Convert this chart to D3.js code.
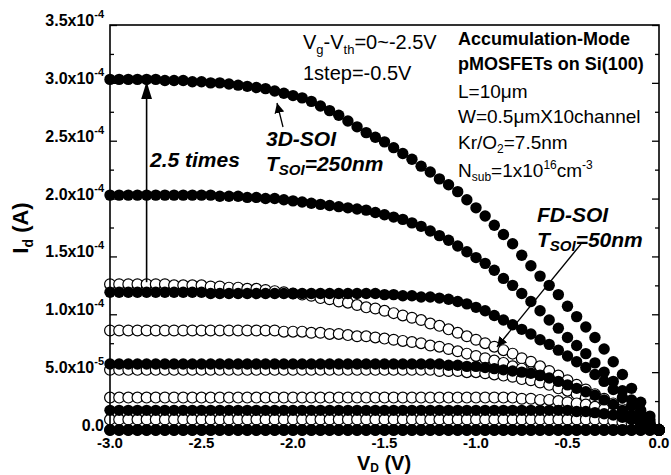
<!DOCTYPE html>
<html>
<head>
<meta charset="utf-8">
<script src="https://cdn.jsdelivr.net/npm/d3@7/dist/d3.min.js"></script>
<style>
  body { margin: 0; background: #fff; }
  text { font-family: Arial, "Liberation Sans", sans-serif; fill: #000; }
</style>
</head>
<body>
<svg id="chart" width="671" height="475"></svg>
<script>
// drain voltage (V)
var vd = [-3.00,-2.95,-2.90,-2.85,-2.80,-2.75,-2.70,-2.65,-2.60,-2.55,
  -2.50,-2.45,-2.40,-2.35,-2.30,-2.25,-2.20,-2.15,-2.10,-2.05,
  -2.00,-1.95,-1.90,-1.85,-1.80,-1.75,-1.70,-1.65,-1.60,-1.55,
  -1.50,-1.45,-1.40,-1.35,-1.30,-1.25,-1.20,-1.15,-1.10,-1.05,
  -1.00,-0.95,-0.90,-0.85,-0.80,-0.75,-0.70,-0.65,-0.60,-0.55,
  -0.50,-0.45,-0.40,-0.35,-0.30,-0.25,-0.20,-0.15,-0.10,-0.05,
  0.00];

// drain current, in units of 1e-4 A
// 3D-SOI (Tsoi=250nm), Vg-Vth = -2.5 ... 0
var soi3d_m25 = [3.03,3.03,3.03,3.03,3.03,3.03,3.02,3.02,3.02,3.01,
  3.01,3.00,3.00,2.99,2.98,2.97,2.96,2.95,2.93,2.91,
  2.89,2.87,2.84,2.80,2.76,2.72,2.67,2.62,2.57,2.53,
  2.49,2.44,2.39,2.34,2.28,2.23,2.17,2.12,2.06,1.99,
  1.92,1.85,1.77,1.69,1.61,1.51,1.42,1.33,1.25,1.17,
  1.07,0.98,0.89,0.80,0.70,0.59,0.48,0.36,0.24,0.12,
  0.00];
var soi3d_m20 = [2.03,2.03,2.03,2.03,2.03,2.03,2.03,2.03,2.03,2.03,
  2.03,2.03,2.02,2.02,2.02,2.01,2.01,2.00,2.00,1.99,
  1.98,1.97,1.96,1.95,1.94,1.93,1.92,1.91,1.90,1.88,
  1.86,1.84,1.82,1.79,1.76,1.72,1.68,1.64,1.59,1.54,
  1.49,1.44,1.38,1.31,1.25,1.18,1.11,1.03,0.95,0.88,
  0.80,0.73,0.66,0.58,0.50,0.42,0.34,0.26,0.17,0.09,
  0.00];
var soi3d_m15 = [1.19,1.19,1.19,1.19,1.19,1.19,1.19,1.19,1.19,1.19,
  1.19,1.18,1.18,1.18,1.18,1.18,1.18,1.18,1.18,1.18,
  1.18,1.18,1.18,1.18,1.18,1.18,1.18,1.18,1.18,1.18,
  1.17,1.17,1.16,1.16,1.15,1.15,1.14,1.13,1.11,1.09,
  1.06,1.03,0.99,0.95,0.91,0.87,0.83,0.78,0.74,0.69,
  0.64,0.59,0.54,0.48,0.42,0.35,0.28,0.21,0.14,0.07,
  0.00];
var soi3d_m10 = [0.57,0.57,0.57,0.57,0.57,0.57,0.57,0.57,0.57,0.57,
  0.57,0.57,0.57,0.57,0.57,0.57,0.57,0.57,0.57,0.57,
  0.57,0.57,0.57,0.57,0.57,0.57,0.57,0.57,0.57,0.57,
  0.57,0.57,0.57,0.57,0.57,0.57,0.57,0.56,0.56,0.55,
  0.55,0.54,0.53,0.52,0.51,0.50,0.49,0.47,0.45,0.42,
  0.39,0.36,0.33,0.30,0.26,0.22,0.17,0.13,0.09,0.04,
  0.00];
var soi3d_m05 = [0.17,0.17,0.17,0.17,0.17,0.17,0.17,0.17,0.17,0.17,
  0.17,0.17,0.17,0.17,0.17,0.17,0.17,0.17,0.17,0.17,
  0.17,0.17,0.17,0.17,0.17,0.17,0.17,0.17,0.17,0.17,
  0.17,0.17,0.17,0.17,0.17,0.17,0.17,0.17,0.17,0.17,
  0.17,0.17,0.17,0.17,0.17,0.17,0.17,0.17,0.17,0.17,
  0.17,0.16,0.16,0.15,0.14,0.13,0.11,0.09,0.06,0.03,
  0.00];
var soi3d_0 = [0,0,0,0,0,0,0,0,0,0, 0,0,0,0,0,0,0,0,0,0,
  0,0,0,0,0,0,0,0,0,0, 0,0,0,0,0,0,0,0,0,0,
  0,0,0,0,0,0,0,0,0,0, 0,0,0,0,0,0,0,0,0,0, 0];

// FD-SOI (Tsoi=50nm), Vg-Vth = -2.5 ... 0
var fd_m25 = [1.26,1.26,1.26,1.26,1.26,1.26,1.26,1.25,1.25,1.25,
  1.25,1.24,1.24,1.23,1.23,1.22,1.22,1.21,1.20,1.19,
  1.18,1.17,1.16,1.14,1.13,1.11,1.10,1.08,1.06,1.05,
  1.03,1.01,0.99,0.97,0.95,0.92,0.90,0.87,0.84,0.81,
  0.78,0.75,0.72,0.69,0.66,0.62,0.59,0.55,0.51,0.47,
  0.43,0.39,0.35,0.31,0.27,0.23,0.18,0.14,0.09,0.05,
  0.00];
var fd_m20 = [0.86,0.86,0.86,0.86,0.86,0.86,0.86,0.86,0.86,0.86,
  0.86,0.86,0.86,0.86,0.86,0.86,0.86,0.86,0.86,0.85,
  0.85,0.85,0.84,0.84,0.83,0.83,0.82,0.81,0.81,0.80,
  0.79,0.78,0.77,0.76,0.75,0.73,0.72,0.70,0.68,0.66,
  0.64,0.62,0.60,0.58,0.55,0.53,0.50,0.47,0.44,0.41,
  0.38,0.34,0.31,0.27,0.24,0.20,0.16,0.12,0.08,0.04,
  0.00];
var fd_m15 = [0.52,0.52,0.52,0.52,0.52,0.52,0.52,0.52,0.52,0.52,
  0.52,0.52,0.52,0.52,0.52,0.52,0.52,0.52,0.52,0.52,
  0.52,0.52,0.52,0.52,0.52,0.52,0.52,0.52,0.52,0.52,
  0.52,0.52,0.52,0.52,0.52,0.52,0.51,0.51,0.51,0.50,
  0.50,0.49,0.48,0.47,0.46,0.44,0.43,0.41,0.39,0.36,
  0.34,0.31,0.28,0.25,0.22,0.18,0.15,0.11,0.07,0.04,
  0.00];
var fd_m10 = [0.28,0.28,0.28,0.28,0.28,0.28,0.28,0.28,0.28,0.28,
  0.28,0.28,0.28,0.28,0.28,0.28,0.28,0.28,0.28,0.28,
  0.28,0.28,0.28,0.28,0.28,0.28,0.28,0.28,0.28,0.28,
  0.28,0.28,0.28,0.28,0.28,0.28,0.28,0.28,0.28,0.28,
  0.28,0.28,0.28,0.28,0.28,0.27,0.27,0.26,0.26,0.25,
  0.24,0.23,0.22,0.20,0.18,0.16,0.13,0.10,0.07,0.03,
  0.00];
var fd_m05 = [0.09,0.09,0.09,0.09,0.09,0.09,0.09,0.09,0.09,0.09,
  0.09,0.09,0.09,0.09,0.09,0.09,0.09,0.09,0.09,0.09,
  0.09,0.09,0.09,0.09,0.09,0.09,0.09,0.09,0.09,0.09,
  0.09,0.09,0.09,0.09,0.09,0.09,0.09,0.09,0.09,0.09,
  0.09,0.09,0.09,0.09,0.09,0.09,0.09,0.09,0.09,0.09,
  0.09,0.09,0.09,0.09,0.09,0.08,0.07,0.06,0.04,0.02,
  0.00];
var fd_0 = [0,0,0,0,0,0,0,0,0,0, 0,0,0,0,0,0,0,0,0,0,
  0,0,0,0,0,0,0,0,0,0, 0,0,0,0,0,0,0,0,0,0,
  0,0,0,0,0,0,0,0,0,0, 0,0,0,0,0,0,0,0,0,0, 0];

var xTicks = [-3.0, -2.5, -2.0, -1.5, -1.0, -0.5, 0.0];
var xTickLabels = ["-3.0", "-2.5", "-2.0", "-1.5", "-1.0", "-0.5", "0.0"];
var yTicks = [0, 0.5, 1.0, 1.5, 2.0, 2.5, 3.0, 3.5];
var yTickMant = ["0.0", "5.0x10", "1.0x10", "1.5x10", "2.0x10", "2.5x10", "3.0x10", "3.5x10"];
var yTickExp = ["", "-5", "-4", "-4", "-4", "-4", "-4", "-4"];

var svg = d3.select("#chart");
// plot frame (note: "top" is reserved on window, so use other names)
var pL = 110, pR = 659, pT = 25, pB = 430;

var x = d3.scaleLinear().domain([-3, 0]).range([pL, pR]);
var y = d3.scaleLinear().domain([0, 3.5]).range([pB, pT]);

// ticks (inward), major + minor, left/right/bottom
var minorX = d3.range(-2.75, 0, 0.5);
var minorY = d3.range(0.25, 3.5, 0.5);

function ticks(axis, vals, size, tr) {
  var g = svg.append("g").attr("transform", tr)
    .call(axis.tickValues(vals).tickSize(size).tickFormat(""));
  g.select(".domain").remove();
  g.selectAll("line").attr("stroke", "#000").attr("stroke-width", 1.3);
}
ticks(d3.axisBottom(x), xTicks, -7, "translate(0," + pB + ")");
ticks(d3.axisBottom(x), minorX, -4, "translate(0," + pB + ")");
ticks(d3.axisLeft(y), yTicks, -7, "translate(" + pL + ",0)");
ticks(d3.axisLeft(y), minorY, -4, "translate(" + pL + ",0)");
ticks(d3.axisRight(y), yTicks, -7, "translate(" + pR + ",0)");
ticks(d3.axisRight(y), minorY, -4, "translate(" + pR + ",0)");

// data markers: open FD-SOI first, filled 3D-SOI on top
var openSeries = [fd_m25, fd_m20, fd_m15, fd_m10, fd_m05, fd_0];
var filledSeries = [soi3d_m25, soi3d_m20, soi3d_m15, soi3d_m10, soi3d_m05, soi3d_0];

openSeries.forEach(function(s) {
  svg.append("g").selectAll("circle").data(s).enter().append("circle")
    .attr("cx", function(d, i) { return x(vd[i]); })
    .attr("cy", function(d) { return y(d); })
    .attr("r", 5.4)
    .attr("fill", "#fff")
    .attr("stroke", "#000")
    .attr("stroke-width", 1.2);
});
filledSeries.forEach(function(s) {
  svg.append("g").selectAll("circle").data(s).enter().append("circle")
    .attr("cx", function(d, i) { return x(vd[i]); })
    .attr("cy", function(d) { return y(d); })
    .attr("r", 5.7)
    .attr("fill", "#000");
});

// frame
svg.append("rect")
  .attr("x", pL).attr("y", pT)
  .attr("width", pR - pL).attr("height", pB - pT)
  .attr("fill", "none").attr("stroke", "#000").attr("stroke-width", 1.6);

// tick labels
svg.append("g").selectAll("text").data(xTicks).enter().append("text")
  .attr("x", function(d) { return x(d); })
  .attr("y", 448)
  .attr("text-anchor", "middle")
  .attr("font-size", 15).attr("font-weight", "bold")
  .text(function(d, i) { return xTickLabels[i]; });

var yl = svg.append("g").selectAll("text").data(yTicks).enter().append("text")
  .attr("x", 104)
  .attr("y", function(d) { return y(d) + 1; })
  .attr("text-anchor", "end")
  .attr("font-size", 16).attr("font-weight", "bold");
yl.append("tspan").text(function(d, i) { return yTickMant[i]; });
yl.append("tspan").attr("dy", -8).attr("font-size", 11)
  .text(function(d, i) { return yTickExp[i]; });

// axis titles
var xt = svg.append("text").attr("x", 384).attr("y", 469.5)
  .attr("text-anchor", "middle").attr("font-size", 20).attr("font-weight", "bold");
xt.append("tspan").text("V");
xt.append("tspan").attr("font-size", 12).attr("dy", 2.5).text("D");
xt.append("tspan").attr("dy", -2.5).text(" (V)");

var ytl = svg.append("text").attr("transform", "translate(28,228) rotate(-90)")
  .attr("text-anchor", "middle").attr("font-size", 22).attr("font-weight", "bold");
ytl.append("tspan").text("I");
ytl.append("tspan").attr("font-size", 14).attr("dy", 5).text("d");
ytl.append("tspan").attr("dy", -5).text(" (A)");

// arrows
var defs = svg.append("defs");
defs.append("marker").attr("id", "ah").attr("viewBox", "0 0 10 10")
  .attr("refX", 10).attr("refY", 5)
  .attr("markerWidth", 10).attr("markerHeight", 10)
  .attr("markerUnits", "userSpaceOnUse").attr("orient", "auto")
  .append("path").attr("d", "M0,0L10,5L0,10z").attr("fill", "#000");
defs.append("marker").attr("id", "ahBig").attr("viewBox", "0 0 10 10")
  .attr("refX", 10).attr("refY", 5)
  .attr("markerWidth", 18).attr("markerHeight", 11)
  .attr("markerUnits", "userSpaceOnUse").attr("orient", "auto")
  .attr("preserveAspectRatio", "none")
  .append("path").attr("d", "M0,0L10,5L0,10z").attr("fill", "#000");

svg.append("line")
  .attr("x1", x(vd[4])).attr("y1", y(fd_m25[4]) - 2)
  .attr("x2", x(vd[4])).attr("y2", y(soi3d_m25[4]) + 2)
  .attr("stroke", "#000").attr("stroke-width", 1.6)
  .attr("marker-end", "url(#ahBig)");
svg.append("line")
  .attr("x1", 283).attr("y1", 127).attr("x2", 277).attr("y2", 103)
  .attr("stroke", "#000").attr("stroke-width", 1.3)
  .attr("marker-end", "url(#ah)");
svg.append("line")
  .attr("x1", 581).attr("y1", 244).attr("x2", 497).attr("y2", 347)
  .attr("stroke", "#000").attr("stroke-width", 1.4)
  .attr("marker-end", "url(#ah)");

// annotation text
function bi(xp, yp, txt) {
  return svg.append("text").attr("x", xp).attr("y", yp)
    .attr("font-size", 21).attr("font-weight", "bold").attr("font-style", "italic")
    .text(txt);
}
bi(150, 167, "2.5 times");
bi(266, 146, "3D-SOI");
var t1 = bi(266, 171, "T");
t1.append("tspan").attr("font-size", 15).attr("dy", 4).text("SOI");
t1.append("tspan").attr("dy", -4).text("=250nm");
bi(537, 222, "FD-SOI");
var t2 = bi(537, 247, "T");
t2.append("tspan").attr("font-size", 15).attr("dy", 4).text("SOI");
t2.append("tspan").attr("dy", -4).text("=50nm");

var vg = svg.append("text").attr("x", 303).attr("y", 49).attr("font-size", 20);
vg.append("tspan").text("V");
vg.append("tspan").attr("font-size", 13).attr("dy", 5).text("g");
vg.append("tspan").attr("dy", -5).text("-V");
vg.append("tspan").attr("font-size", 13).attr("dy", 5).text("th");
vg.append("tspan").attr("dy", -5).text("=0~-2.5V");
svg.append("text").attr("x", 303).attr("y", 80).attr("font-size", 20).text("1step=-0.5V");

svg.append("text").attr("x", 458).attr("y", 45).attr("font-size", 18)
  .attr("font-weight", "bold").text("Accumulation-Mode");
svg.append("text").attr("x", 458).attr("y", 70).attr("font-size", 18)
  .attr("font-weight", "bold").text("pMOSFETs on Si(100)");
svg.append("text").attr("x", 458).attr("y", 98).attr("font-size", 19).text("L=10\u03bcm");
svg.append("text").attr("x", 458).attr("y", 123).attr("font-size", 19).text("W=0.5\u03bcmX10channel");
var kr = svg.append("text").attr("x", 458).attr("y", 149).attr("font-size", 19);
kr.append("tspan").text("Kr/O");
kr.append("tspan").attr("font-size", 12).attr("dy", 4).text("2");
kr.append("tspan").attr("dy", -4).text("=7.5nm");
var ns = svg.append("text").attr("x", 458).attr("y", 177).attr("font-size", 19);
ns.append("tspan").text("N");
ns.append("tspan").attr("font-size", 12).attr("dy", 4).text("sub");
ns.append("tspan").attr("dy", -4).text("=1x10");
ns.append("tspan").attr("font-size", 12).attr("dy", -8).text("16");
ns.append("tspan").attr("dy", 8).text("cm");
ns.append("tspan").attr("font-size", 12).attr("dy", -8).text("-3");
</script>
</body>
</html>
